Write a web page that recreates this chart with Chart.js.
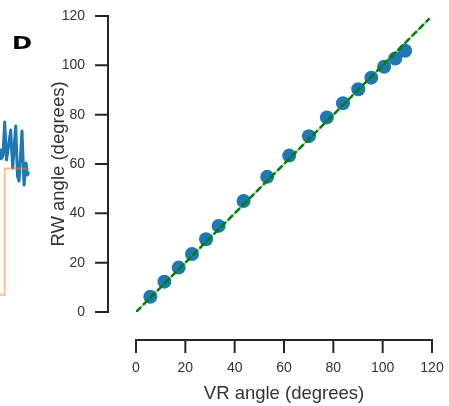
<!DOCTYPE html>
<html>
<head>
<meta charset="utf-8">
<script src="https://cdn.jsdelivr.net/npm/chart.js@4.4.1/dist/chart.umd.min.js"></script>
<style>
  html, body { margin: 0; padding: 0; background: #fff; }
  body { width: 449px; height: 406px; position: relative; overflow: hidden; }
  #main { position: absolute; left: 0; top: 0; }
  #side { position: absolute; left: 0; top: 110px; }
  .panel-label {
    position: absolute; left: 12px; top: 33px; z-index: 2;
    font: bold 17px "DejaVu Sans", sans-serif; color: #000;
    transform: scaleX(1.42); transform-origin: left top;
  }
</style>
</head>
<body>
<canvas id="side" width="32" height="200"></canvas>
<canvas id="main" width="449" height="406"></canvas>
<div class="panel-label">D</div>
<script>
// DATA
var vrAngle = [5.8, 11.5, 17.3, 22.7, 28.4, 33.5, 43.6, 53.2, 62.1, 70.1, 77.4, 83.9, 90.1, 95.4, 100.6, 105.1, 109.1];
var rwAngle = [6.2, 12.3, 18.0, 23.5, 29.5, 34.9, 45.0, 54.8, 63.4, 71.3, 78.9, 84.6, 90.3, 95.0, 99.4, 102.8, 105.9];
var identityLine = [0, 119];
var axisMin = 0;
var axisMax = 120;
var axisStep = 20;

// edge of the neighbouring panel (cut off on the left)
var traceTime  = [0, 1, 2, 3, 4.7, 6.5, 8, 10.7, 12.7, 15.7, 17.5, 19, 22, 24, 26, 27.5, 28.7];
var traceAngle = [62.0, 66.6, 62.9, 64.3, 79.5, 62.0, 66.6, 75.8, 58.3, 77.6, 54.6, 52.3, 75.3, 50.5, 60.6, 55.1, 56.5];
var stepTime   = [0, 4.7, 4.7, 28.7];
var stepAngle  = [0, 0, 58.1, 58.1];

var FONT = "'Liberation Sans', Arial, sans-serif";
var AXIS_OFFSET = 28;
var TICK_LEN = 12;

function toPoints(xs, ys) {
  return xs.map(function(x, i) { return { x: x, y: ys[i] }; });
}

// seaborn style despined axes, pushed away from the data area
var offsetAxes = {
  id: 'offsetAxes',
  afterDraw: function(chart) {
    var ctx = chart.ctx;
    var xs = chart.scales.x;
    var ys = chart.scales.y;
    var lineX = chart.chartArea.left - AXIS_OFFSET;
    var lineY = chart.chartArea.bottom + AXIS_OFFSET;

    ctx.save();
    ctx.strokeStyle = '#262626';
    ctx.lineWidth = 2;
    ctx.lineCap = 'square';
    ctx.beginPath();
    ctx.moveTo(lineX, ys.getPixelForValue(axisMin));
    ctx.lineTo(lineX, ys.getPixelForValue(axisMax));
    ys.ticks.forEach(function(t) {
      var py = ys.getPixelForValue(t.value);
      ctx.moveTo(lineX, py);
      ctx.lineTo(lineX - TICK_LEN, py);
    });
    ctx.moveTo(xs.getPixelForValue(axisMin), lineY);
    ctx.lineTo(xs.getPixelForValue(axisMax), lineY);
    xs.ticks.forEach(function(t) {
      var px = xs.getPixelForValue(t.value);
      ctx.moveTo(px, lineY);
      ctx.lineTo(px, lineY + TICK_LEN);
    });
    ctx.stroke();
    ctx.restore();
  }
};

function mainChart() {
  // invisible grid ticks only push the labels away from the data area
  var hiddenGrid = function(len) {
    return { display: true, drawOnChartArea: false, drawTicks: true, tickLength: len, color: 'rgba(0,0,0,0)' };
  };

  var config = {
    type: 'scatter',
    data: {
      datasets: [
        {
          label: 'identity',
          data: toPoints(identityLine, identityLine),
          showLine: true,
          borderColor: 'green',
          borderWidth: 2.5,
          borderDash: [7, 3],
          pointRadius: 0
        },
        {
          label: 'identity-under',
          data: toPoints(identityLine, identityLine),
          showLine: true,
          borderColor: 'rgba(0, 128, 0, 0.35)',
          borderWidth: 2,
          pointRadius: 0
        },
        {
          label: 'angles',
          data: toPoints(vrAngle, rwAngle),
          backgroundColor: '#1f77b4',
          borderWidth: 0,
          pointRadius: 7,
          pointHoverRadius: 7
        }
      ]
    },
    options: {
      responsive: false,
      animation: false,
      events: [],
      layout: { padding: { left: 0, top: 16, right: 17, bottom: 0 } },
      plugins: { legend: { display: false }, tooltip: { enabled: false } },
      scales: {
        x: {
          type: 'linear',
          min: axisMin,
          max: axisMax,
          afterFit: function(scale) { scale.height = 94; },
          grid: hiddenGrid(45),
          border: { display: false },
          ticks: {
            stepSize: axisStep,
            padding: 3,
            color: '#333',
            font: { family: FONT, size: 14 }
          },
          title: {
            display: true,
            text: 'VR angle (degrees)',
            color: '#333',
            padding: { top: 0, bottom: 1 },
            font: { family: FONT, size: 18.5 }
          }
        },
        y: {
          type: 'linear',
          min: axisMin,
          max: axisMax,
          afterFit: function(scale) { scale.width = 136; },
          grid: hiddenGrid(48),
          border: { display: false },
          ticks: {
            stepSize: axisStep,
            padding: 3,
            color: '#333',
            font: { family: FONT, size: 14 }
          },
          title: {
            display: true,
            text: 'RW angle (degrees)',
            color: '#333',
            padding: { top: 48, bottom: 0 },
            font: { family: FONT, size: 18.5 }
          }
        }
      }
    },
    plugins: [offsetAxes]
  };
  return new Chart(document.getElementById('main'), config);
}

function sideChart() {
  var config = {
    type: 'scatter',
    data: {
      datasets: [
        {
          data: toPoints(stepTime, stepAngle),
          showLine: true,
          borderColor: 'rgba(255, 127, 14, 0.5)',
          borderWidth: 2,
          pointRadius: 0,
          clip: false
        },
        {
          data: toPoints(traceTime, traceAngle),
          showLine: true,
          borderColor: '#1f77b4',
          borderWidth: 3,
          borderJoinStyle: 'round',
          pointRadius: 0,
          clip: false
        }
      ]
    },
    options: {
      responsive: false,
      animation: false,
      events: [],
      layout: { padding: 0 },
      plugins: { legend: { display: false }, tooltip: { enabled: false } },
      scales: {
        x: { type: 'linear', min: 0, max: 32, display: false },
        y: { type: 'linear', min: -7, max: 85, display: false }
      }
    }
  };
  return new Chart(document.getElementById('side'), config);
}

sideChart();
mainChart();
</script>
</body>
</html>
